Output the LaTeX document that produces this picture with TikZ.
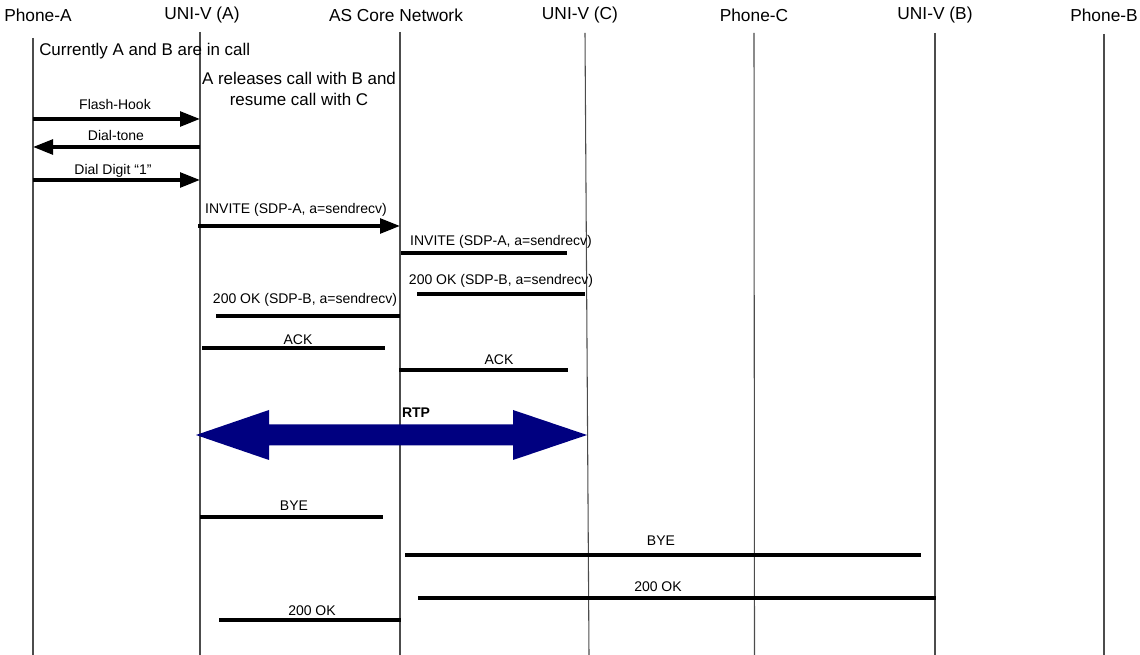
\documentclass[tikz,border=0pt]{standalone}
\usepackage{fontspec}
\setmainfont{Liberation Sans}
\usetikzlibrary{arrows.meta}
\definecolor{rtpblue}{RGB}{0,0,128}
\begin{document}
\begin{tikzpicture}[x=0.75pt,y=-0.75pt,
  life/.style={draw=black!70, line width=0.8pt},
  msg/.style={line width=2.6pt},
  arr/.style={msg,-{Triangle[length=15pt,width=11pt]}},
  hd/.style={font=\fontsize{13}{15}\selectfont, inner sep=0pt},
  lbl/.style={font=\fontsize{10.5}{12}\selectfont, inner sep=0pt},
  note/.style={font=\fontsize{12.7}{15.5}\selectfont, inner sep=0pt, align=center}]
\useasboundingbox (0,0) rectangle (1140,655);

% headers
\node[hd] (hPA) at (38,15) {Phone-A};
\node[hd] (hUA) at (202,15) {UNI-V (A)};
\node[hd] (hAS) at (396,15) {AS Core Network};
\node[hd] (hUC) at (580,15) {UNI-V (C)};
\node[hd] (hPC) at (754,15) {Phone-C};
\node[hd] (hUB) at (935,15) {UNI-V (B)};
\node[hd] (hPB) at (1104,15) {Phone-B};

% lifelines
\coordinate (PAt) at (33,38);   \coordinate (PAb) at (33,655);
\coordinate (UAt) at (200,32);  \coordinate (UAb) at (200,655);
\coordinate (ASt) at (400,32);  \coordinate (ASb) at (400,655);
\coordinate (UCt) at (585,33);  \coordinate (UCb) at (589,655);
\coordinate (PCt) at (754,33);  \coordinate (PCb) at (754.5,655);
\coordinate (UBt) at (935,33);  \coordinate (UBb) at (935,655);
\coordinate (PBt) at (1104,34); \coordinate (PBb) at (1104,655);
\foreach \l in {PA,UA,AS,UC,PC,UB,PB} \draw[life] (\l t) -- (\l b);

% notes
\node[note, anchor=west] (n1) at (39,51) {Currently A and B are in call};
\node[note] (n2) at (299,89) {A releases call with B and\\resume call with C};

% Flash-Hook
\coordinate (m1a) at (33,119); \coordinate (m1b) at (200,119);
\draw[arr] (m1a) -- (m1b);
\node[lbl] (l1) at (115,105) {Flash-Hook};
% Dial-tone
\coordinate (m2a) at (200,147); \coordinate (m2b) at (33,147);
\draw[arr] (m2a) -- (m2b);
\node[lbl] (l2) at (116,136) {Dial-tone};
% Dial digit
\coordinate (m3a) at (33,180); \coordinate (m3b) at (200,180);
\draw[arr] (m3a) -- (m3b);
\node[lbl] (l3) at (113,171) {Dial Digit “1”};
% INVITE
\coordinate (m4a) at (198,226); \coordinate (m4b) at (400,226);
\draw[arr] (m4a) -- (m4b);
\node[lbl] (l4) at (296,210) {INVITE (SDP-A, a=sendrecv)};
% INVITE 2
\coordinate (m5a) at (401,253); \coordinate (m5b) at (567,253);
\draw[msg] (m5a) -- (m5b);
\node[lbl] (l5) at (501,242) {INVITE (SDP-A, a=sendrecv)};
% 200 OK right
\coordinate (m6a) at (417,294); \coordinate (m6b) at (585,294);
\draw[msg] (m6a) -- (m6b);
\node[lbl] (l6) at (501,281) {200 OK (SDP-B, a=sendrecv)};
% 200 OK left
\coordinate (m7a) at (216,316); \coordinate (m7b) at (400,316);
\draw[msg] (m7a) -- (m7b);
\node[lbl] (l7) at (305,300) {200 OK (SDP-B, a=sendrecv)};
% ACK
\coordinate (m8a) at (202,348); \coordinate (m8b) at (385,348);
\draw[msg] (m8a) -- (m8b);
\node[lbl] (l8) at (298,340) {ACK};
% ACK 2
\coordinate (m9a) at (399,370); \coordinate (m9b) at (568,370);
\draw[msg] (m9a) -- (m9b);
\node[lbl] (l9) at (499,360) {ACK};

% RTP double arrow
\fill[rtpblue] (196,435) -- (269,410) -- (269,424.5) -- (513,424.5) -- (513,410)
  -- (587,435) -- (513,460) -- (513,445.5) -- (269,445.5) -- (269,460) -- cycle;
\node[lbl, font=\fontsize{10.5}{12}\selectfont\bfseries] (lr) at (416,413) {RTP};

% BYE
\coordinate (m10a) at (200,517); \coordinate (m10b) at (383,517);
\draw[msg] (m10a) -- (m10b);
\node[lbl] (l10) at (294,506) {BYE};
% BYE 2
\coordinate (m11a) at (405,555); \coordinate (m11b) at (921,555);
\draw[msg] (m11a) -- (m11b);
\node[lbl] (l11) at (661,541) {BYE};
% 200 OK
\coordinate (m12a) at (418,598); \coordinate (m12b) at (936,598);
\draw[msg] (m12a) -- (m12b);
\node[lbl] (l12) at (658,587) {200 OK};
% 200 OK bottom
\coordinate (m13a) at (219,620); \coordinate (m13b) at (401,620);
\draw[msg] (m13a) -- (m13b);
\node[lbl] (l13) at (312,611) {200 OK};
\end{tikzpicture}
\end{document}
